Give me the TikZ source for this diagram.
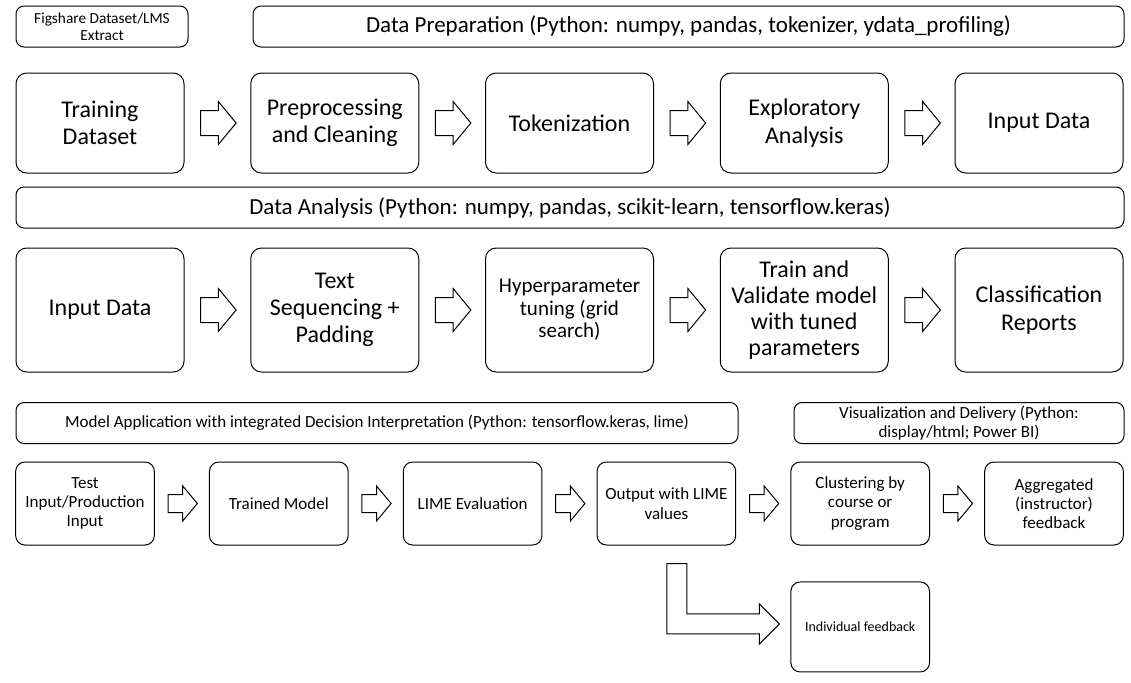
\documentclass[tikz,border=0pt]{standalone}
\usepackage{fontspec}
\setmainfont{Carlito}
\usetikzlibrary{shapes,arrows,calc}
\tikzstyle{box} = [draw, rounded corners=8pt, align=center, inner sep=0pt, line width=0.75pt]
\tikzstyle{big} = [box, minimum width=126pt, font=\fontsize{18}{20.5}\selectfont]
\tikzstyle{head} = [box, rounded corners=6pt, minimum height=30.75pt, font=\fontsize{17.25}{20}\selectfont]
\tikzstyle{small} = [box, rounded corners=7pt, minimum width=104pt, minimum height=62.25pt, font=\fontsize{12.75}{14.5}\selectfont]
% block arrow from #1 to #2, shaft half width #3, head half width #4
\newcommand{\blockarrow}[4]{%
\draw[line width=0.75pt, fill=white]
($(#1.east)!0.245!(#2.west)+(0,-#3)$) -- ($(#1.east)!0.515!(#2.west)+(0,-#3)$)
-- ($(#1.east)!0.515!(#2.west)+(0,-#4)$) -- ($(#1.east)!0.785!(#2.west)$)
-- ($(#1.east)!0.515!(#2.west)+(0,#4)$) -- ($(#1.east)!0.515!(#2.west)+(0,#3)$)
-- ($(#1.east)!0.245!(#2.west)+(0,#3)$) -- cycle;}

\begin{document}
\begin{tikzpicture}[x=0.75pt,y=-0.75pt,node distance=176.06pt]
\useasboundingbox (0,0) rectangle (1131,682);

\node[head, minimum width=129pt, font=\fontsize{11.5}{12.75}\selectfont] (src) at (102,26.5) {Figshare Dataset/LMS\\Extract};
\node[head, minimum width=653.25pt] (prep) at (688.5,26.5) {Data Preparation (Python: numpy, pandas, tokenizer, ydata\_profiling)};

\node[big, minimum height=75pt] (1) at (100,123) {Training\\Dataset};
\node[big, minimum height=75pt, right of = 1] (2) [] {Preprocessing\\and Cleaning};
\node[big, minimum height=75pt, right of = 2] (3) [] {Tokenization};
\node[big, minimum height=75pt, right of = 3] (4) [] {Exploratory\\Analysis};
\node[big, minimum height=75pt, right of = 4] (5) [] {Input Data};

\node[head, minimum width=831pt] (ana) at (570,207.5) {Data Analysis (Python: numpy, pandas, scikit-learn, tensorflow.keras)};

\node[big, minimum height=93pt] (6) at (100,310) {Input Data};
\node[big, minimum height=93pt, right of = 6] (7) [] {Text\\Sequencing +\\Padding};
\node[big, minimum height=93pt, right of = 7, font=\fontsize{15.75}{16.9}\selectfont] (8) [] {Hyperparameter\\tuning (grid\\search)};
\node[big, minimum height=93pt, right of = 8, font=\fontsize{18}{19.5}\selectfont] (9) [] {Train and\\Validate model\\with tuned\\parameters};
\node[big, minimum height=93pt, right of = 9] (10) [] {Classification\\Reports};

\node[head, minimum width=541.5pt, font=\fontsize{12.75}{14.5}\selectfont] (app) at (377,423) {Model Application with integrated Decision Interpretation (Python: tensorflow.keras, lime)};
\node[head, minimum width=247.5pt, font=\fontsize{12.75}{14.25}\selectfont] (vis) at (959,423) {Visualization and Delivery (Python:\\display/html; Power BI)};

\begin{scope}[node distance=145.35pt]
\node[small] (11) at (85,503.5) {Test\\Input/Production\\Input};
\node[small, right of = 11] (12) [] {Trained Model};
\node[small, right of = 12] (13) [] {LIME Evaluation};
\node[small, right of = 13] (14) [] {Output with LIME\\values};
\node[small, right of = 14] (15) [] {Clustering by\\course or\\program};
\node[small, right of = 15] (16) [] {Aggregated\\(instructor)\\feedback};
\node[small, below of = 15, node distance=92.6pt, minimum height=67.5pt, font=\fontsize{10.5}{12}\selectfont] (ind) [] {Individual feedback};
\end{scope}

\blockarrow{1}{2}{12.5}{21.5}
\blockarrow{2}{3}{12.5}{21.5}
\blockarrow{3}{4}{12.5}{21.5}
\blockarrow{4}{5}{12.5}{21.5}
\blockarrow{6}{7}{12.5}{21.5}
\blockarrow{7}{8}{12.5}{21.5}
\blockarrow{8}{9}{12.5}{21.5}
\blockarrow{9}{10}{12.5}{21.5}
\blockarrow{11}{12}{9}{17.5}
\blockarrow{12}{13}{9}{17.5}
\blockarrow{13}{14}{9}{17.5}
\blockarrow{14}{15}{9}{17.5}
\blockarrow{15}{16}{9}{17.5}

\coordinate (tip) at ($(ind.west)+(-11,-3)$);
\draw[line width=0.75pt, fill=white] ($(14.south)+(0.5,18)$) coordinate (bs) -- ++(20,0) |- ($(tip)+(-20,-10)$) -- ++(0,-10) -- (tip) -- ++(-20,20) -- ++(0,-10) -- ($(bs |- tip)+(0,10)$) -- cycle;
\end{tikzpicture}
\end{document}
